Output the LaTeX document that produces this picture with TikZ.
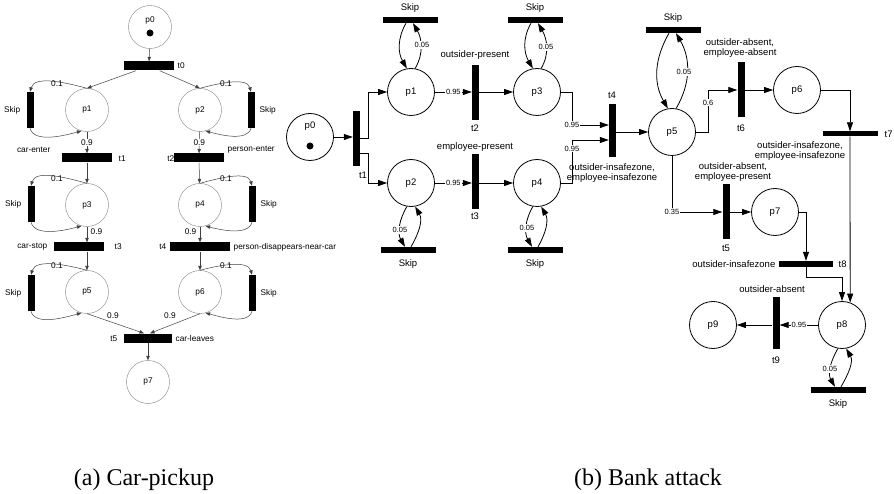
\documentclass[tikz,border=0pt]{standalone}
\usepackage{fontspec}
\setmainfont{Liberation Sans}
\newfontfamily\capfont{Liberation Serif}
\usetikzlibrary{arrows.meta}

\newcommand\carfnt{\fontsize{8.3pt}{9.5pt}\selectfont}
\newcommand\bankfnt{\fontsize{9.5pt}{10.5pt}\selectfont}
\newcommand\probfnt{\fontsize{7.5pt}{8.5pt}\selectfont}

\tikzset{
  % car-pickup net
  cplace/.style={circle, draw=black!50, minimum size=43pt, inner sep=0pt, font=\carfnt},
  ctrans/.style={fill=black, minimum width=50pt, minimum height=9pt, inner sep=0pt},
  cskip/.style={fill=black, minimum width=7pt, minimum height=36pt, inner sep=0pt},
  carc/.style={draw=black!75, line width=0.5pt, -{Triangle[length=4.5pt,width=3.5pt]}},
  clbl/.style={font=\carfnt, inner sep=0.5pt},
  cprob/.style={clbl, fill=white},
  % bank-attack net
  bplace/.style={circle, draw, line width=0.8pt, minimum size=47pt, inner sep=0pt, font=\bankfnt},
  vtrans/.style={fill=black, minimum width=7pt, minimum height=55pt, inner sep=0pt},
  htrans/.style={fill=black, minimum width=55pt, minimum height=6pt, inner sep=0pt},
  barc/.style={draw, line width=0.8pt, -{Triangle[length=9pt,width=6pt]}},
  blbl/.style={font=\bankfnt, inner sep=0.5pt, align=center},
  prob/.style={font=\probfnt, fill=white, inner sep=1pt},
  token/.style={circle, fill=black, minimum size=7pt, inner sep=0pt},
}

\begin{document}
\begin{tikzpicture}[x=1pt, y=1pt]
\useasboundingbox (0,0) rectangle (894,-494);

% ===== (a) car-pickup =====
% places
\node[cplace] (cp0) at (150,-27) {};
\node[clbl] (cp0l) at (150,-20) {p0};
\node[token] (cp0t) at (150,-33) {};
\node[cplace] (cp1) at (87,-110) {p1};
\node[cplace] (cp2) at (200,-110) {p2};
\node[cplace] (cp3) at (87,-205) {p3};
\node[cplace] (cp4) at (200,-205) {p4};
\node[cplace] (cp5) at (87,-292) {p5};
\node[cplace] (cp6) at (200,-292) {p6};
\node[cplace] (cp7) at (148,-382) {p7};

% transitions
\node[ctrans] (ct0) at (149,-66) {};
\node[ctrans] (ct1) at (87,-158) {};
\node[ctrans] (ct2) at (199,-158) {};
\node[ctrans] (ct3) at (79,-247) {};
\node[ctrans, minimum width=60pt] (ct4) at (200,-247) {};
\node[ctrans, minimum width=48pt] (ct5) at (148,-338) {};

% skip transitions
\node[cskip] (cs1) at (30,-110) {};
\node[cskip] (cs2) at (251,-110) {};
\node[cskip] (cs3) at (31,-204) {};
\node[cskip] (cs4) at (252,-204) {};
\node[cskip] (cs5) at (31,-293) {};
\node[cskip] (cs6) at (252,-293) {};

% transition labels
\node[clbl, anchor=west] (ct0l) at (177,-66) {t0};
\node[clbl, anchor=west] (ct1l) at (118,-159) {t1};
\node[clbl, anchor=east] (ct2l) at (175,-159) {t2};
\node[clbl, anchor=west] (ct3l) at (114,-247) {t3};
\node[clbl, anchor=east] (ct4l) at (167,-247) {t4};
\node[clbl, anchor=east] (ct5l) at (118,-339) {t5};
\node[clbl, anchor=east] (ce1) at (51,-150) {car-enter};
\node[clbl, anchor=west] (ce2) at (227,-150) {person-enter};
\node[clbl, anchor=east] (ce3) at (48,-247) {car-stop};
\node[clbl, anchor=west] (ce4) at (233,-247) {person-disappears-near-car};
\node[clbl, anchor=west] (ce5) at (175,-339) {car-leaves};

\foreach \s in {1,3,5}
  \node[clbl, anchor=east] (cs\s l) at ([xshift=-9pt]cs\s) {Skip};
\foreach \s in {2,4,6}
  \node[clbl, anchor=west] (cs\s l) at ([xshift=8pt]cs\s) {Skip};

% arcs
\draw[carc] (cp0) -- (ct0);
\draw[carc] (ct0) -- (cp1.north);
\draw[carc] (ct0) -- (cp2.north);
\draw[carc] (cp1) -- node[cprob] (w1) {0.9} (ct1);
\draw[carc] (cp2) -- node[cprob] (w2) {0.9} (ct2);
\draw[carc] (ct1) -- (cp3);
\draw[carc] (ct2) -- (cp4);
\draw[carc] (cp3) -- (cp3 |- ct3.north);
\draw[carc] (ct3.south -| cp5) -- (cp5);
\draw[carc] (cp4) -- (ct4);
\draw[carc] (ct4) -- (cp6);
\draw[carc] (cp5.south) -- ([xshift=-4pt]ct5.north);
\draw[carc] (cp6.south) -- ([xshift=2pt]ct5.north);
\draw[carc] (ct5) -- (cp7);
\node[clbl, anchor=west] (w3) at (90,-232) {0.9};
\node[clbl, anchor=east] (w4) at (197,-232) {0.9};
\node[clbl] (w5) at (113,-316) {0.9};
\node[clbl] (w6) at (170,-316) {0.9};

% skip loops
\foreach \p/\s in {cp1/cs1, cp3/cs3, cp5/cs5} {
  \draw[carc] (\p.north) to[out=165, in=75, looseness=0.8] (\s.north);
  \draw[carc] (\s.south) to[out=-75, in=195, looseness=0.8] (\p.255);
  \node[clbl] (\s w) at ([xshift=-30pt, yshift=26pt]\p) {0.1};
}
\foreach \p/\s in {cp2/cs2, cp4/cs4, cp6/cs6} {
  \draw[carc] (\p.north) to[out=15, in=105, looseness=0.8] (\s.north);
  \draw[carc] (\s.south) to[out=255, in=-15, looseness=0.8] (\p.285);
  \node[clbl] (\s w) at ([xshift=26pt, yshift=26pt]\p) {0.1};
}

% ===== (b) bank attack =====
% places
\node[bplace] (bp0) at (310,-137) {};
\node[blbl] (bp0l) at (310,-126) {p0};
\node[token] (bp0t) at (310,-146) {};
\node[bplace] (bp1) at (411,-92) {p1};
\node[bplace] (bp2) at (411,-183) {p2};
\node[bplace] (bp3) at (537,-92) {p3};
\node[bplace] (bp4) at (537,-183) {p4};
\node[bplace] (bp5) at (672,-132) {p5};
\node[bplace] (bp6) at (797,-90) {p6};
\node[bplace] (bp7) at (775,-212) {p7};
\node[bplace] (bp8) at (842,-325) {p8};
\node[bplace] (bp9) at (713,-325) {p9};

% transitions
\node[vtrans] (bt1) at (356.5,-139) {};
\node[vtrans] (bt2) at (475.5,-93) {};
\node[vtrans] (bt3) at (475.5,-182) {};
\node[vtrans, minimum height=53pt] (bt4) at (612.5,-131) {};
\node[vtrans] (bt5) at (726,-212) {};
\node[vtrans] (bt6) at (741,-90) {};
\node[htrans, minimum height=5pt] (bt7) at (850,-134) {};
\node[htrans, minimum width=54pt] (bt8) at (806,-264) {};
\node[vtrans, minimum height=51pt] (bt9) at (776,-323) {};

% skip transitions
\node[htrans] (bs1) at (410,-20) {};
\node[htrans] (bs2) at (408,-250) {};
\node[htrans] (bs3) at (535,-20) {};
\node[htrans] (bs4) at (535,-250) {};
\node[htrans] (bs5) at (673,-30) {};
\node[htrans] (bs8) at (838,-390) {};
\foreach \s in {1,3,5}
  \node[blbl, anchor=south] (bs\s l) at ([yshift=4pt]bs\s.north) {Skip};
\foreach \s in {2,4,8}
  \node[blbl, anchor=north] (bs\s l) at ([yshift=-6pt]bs\s.south) {Skip};

% transition labels
\node[blbl] (bt1l) at (363,-175) {t1};
\node[blbl] (bt2l) at (475,-128) {t2};
\node[blbl] (bt3l) at (475,-216) {t3};
\node[blbl] (bt4l) at (612,-95) {t4};
\node[blbl] (bt5l) at (726,-248) {t5};
\node[blbl] (bt6l) at (741,-128) {t6};
\node[blbl, anchor=west] (bt7l) at (884,-134) {t7};
\node[blbl, anchor=west] (bt8l) at (838,-264) {t8};
\node[blbl] (bt9l) at (776,-360) {t9};
\node[blbl] (be2) at (475,-55) {outsider-present};
\node[blbl] (be3) at (475,-147) {employee-present};
\node[blbl] (be4) at (612,-173) {outsider-insafezone,\\employee-insafezone};
\node[blbl] (be5) at (733,-172) {outsider-absent,\\employee-present};
\node[blbl] (be6) at (740,-48) {outsider-absent,\\employee-absent};
\node[blbl] (be7) at (800,-151) {outsider-insafezone,\\employee-insafezone};
\node[blbl, anchor=east] (be8) at (776,-264) {outsider-insafezone};
\node[blbl] (be9) at (772,-289) {outsider-absent};

% arcs
\coordinate (k3) at (572,-125);
\coordinate (k4) at (572,-140);
\coordinate (k5) at (708,-90);
\draw[barc] (bp0) -- (bp0 -| bt1.west);
\draw[barc] ([yshift=1pt]bt1.east) -- ++(8,0) |- (bp1);
\draw[barc] ([yshift=-14pt]bt1.east) -- ++(8,0) |- (bp2);
\draw[barc] (bp1.east) -- node[prob] (v12) {0.95} (bp1.east -| bt2.west);
\draw[barc] (bt2.east |- bp3) -- (bp3);
\draw[barc] (bp2.east) -- node[prob] (v23) {0.95} (bp2.east -| bt3.west);
\draw[barc] (bt3.east |- bp4) -- (bp4);
\draw[barc] (bp3.east) -| (k3) node[prob] (v34) {0.95} -- (k3 -| bt4.west);
\draw[barc] (bp4.east) -| node[prob, pos=0.9] (v44) {0.95} (k4) -- (k4 -| bt4.west);
\draw[barc] (bt4.east |- bp5) -- (bp5);
\draw[barc] (bp5.east) -| node[prob, pos=0.85] (v56) {0.6} (k5) -- (k5 -| bt6.west);
\draw[barc] (bt6.east |- bp6) -- (bp6);
\draw[barc] (bp6.east) -| (bt7.north);
\draw[barc] (bt7.south) -- (bp8.70);
\draw[barc] (bp5.south) |- node[prob] (v57) {0.35} (bt5.west);
\draw[barc] (bt5.east |- bp7) -- (bp7);
\draw[barc] (bp7.east) -| (bt8.north);
\draw[barc] (bt8.south) -- ++(0,-10) -| (bp8.north);
\draw[barc] (bp8.west) -- node[prob] (v89) {0.95} (bp8.west -| bt9.east);
\draw[barc] (bt9.west |- bp9) -- (bp9);

% skip loops
\foreach \p/\s in {bp1/bs1, bp3/bs3, bp5/bs5}
  \draw[barc] ([xshift=-4pt]\s.south) to[out=240, in=120] (\p.100);
\foreach \p/\s in {bp1/bs1, bp3/bs3, bp5/bs5}
  \draw[barc] (\p.80) to[out=60, in=-60] ([xshift=3pt]\s.south);
\foreach \p/\s in {bp2/bs2, bp4/bs4, bp8/bs8}
  \draw[barc] (\p.260) to[out=240, in=120] ([xshift=-3pt]\s.north);
\foreach \p/\s in {bp2/bs2, bp4/bs4, bp8/bs8}
  \draw[barc] ([xshift=3pt]\s.north) to[out=60, in=-60] (\p.280);
\node[prob] (q1) at (422,-45) {0.05};
\node[prob] (q3) at (546,-47) {0.05};
\node[prob] (q5) at (684,-72) {0.05};
\node[prob] (q2) at (400,-230) {0.05};
\node[prob] (q4) at (527,-228) {0.05};
\node[prob] (q8) at (830,-369) {0.05};

% captions
\node[font=\capfont\fontsize{24pt}{28pt}\selectfont, anchor=base] (capa) at (144,-485) {(a) Car-pickup};
\node[font=\capfont\fontsize{24pt}{28pt}\selectfont, anchor=base] (capb) at (648,-485) {(b) Bank attack};

\end{tikzpicture}
\end{document}
